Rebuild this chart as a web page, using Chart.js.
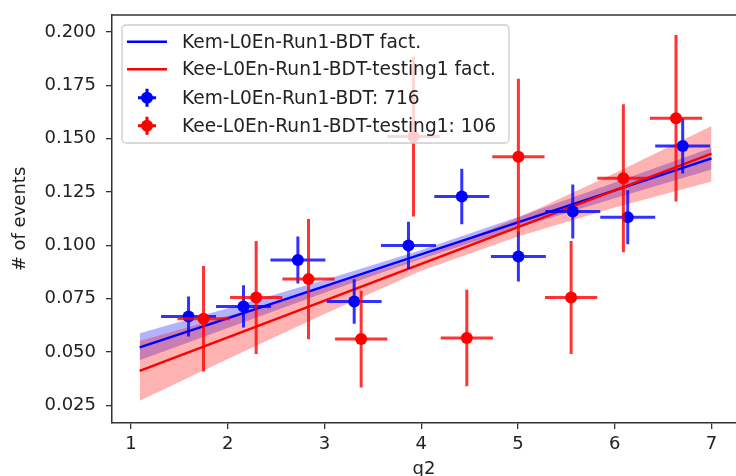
<!DOCTYPE html>
<html>
<head>
<meta charset="utf-8">
<script src="https://cdn.jsdelivr.net/npm/chart.js@4"></script>
<style>
  html, body { margin: 0; padding: 0; background: #fff; overflow: hidden; }
  #chart { display: block; }
</style>
</head>
<body>
<canvas id="chart" width="736" height="476"></canvas>
<script>
// Kem sample (blue) : bin centres, values and errors
let kemX = [1.595, 2.163, 2.725, 3.307, 3.868, 4.419, 5.004, 5.566, 6.134, 6.702]
let kemY = [0.0667, 0.0714, 0.0932, 0.0737, 0.1000, 0.1229, 0.0948, 0.1159, 0.1132, 0.1466]
let kemXErr = [0.284, 0.284, 0.284, 0.284, 0.284, 0.284, 0.284, 0.284, 0.284, 0.284]
let kemYErr = [0.0094, 0.0099, 0.0110, 0.0104, 0.0111, 0.0130, 0.0117, 0.0127, 0.0127, 0.0129]

// Kee sample (red)
let keeX = [1.750, 2.294, 2.835, 3.379, 3.920, 4.471, 5.004, 5.549, 6.089, 6.633]
let keeY = [0.0656, 0.0756, 0.0842, 0.0561, 0.1510, 0.0566, 0.1416, 0.0756, 0.1315, 0.1596]
let keeXErr = [0.270, 0.270, 0.270, 0.270, 0.270, 0.270, 0.270, 0.270, 0.270, 0.270]
let keeYErr = [0.0247, 0.0265, 0.0282, 0.0227, 0.0375, 0.0226, 0.0365, 0.0265, 0.0347, 0.0390]

// fitted lines (end points) and their uncertainty bands
let fitX = [1.09, 7.0]
let kemFit = [0.0522, 0.1408]
let keeFit = [0.0412, 0.1430]
let bandX = [1.09, 2, 3, 4, 5, 6, 7]
let kemBandHi = [0.0588, 0.0705, 0.0838, 0.0979, 0.1133, 0.1295, 0.1458]
let kemBandLo = [0.0462, 0.0613, 0.0778, 0.0937, 0.1083, 0.1221, 0.1356]
let keeBandHi = [0.0552, 0.0670, 0.0804, 0.0945, 0.1128, 0.1338, 0.1560]
let keeBandLo = [0.0272, 0.0468, 0.0678, 0.0881, 0.1042, 0.1178, 0.1300]

let labels = ["Kem-L0En-Run1-BDT fact.", "Kee-L0En-Run1-BDT-testing1 fact.",
              "Kem-L0En-Run1-BDT: 716", "Kee-L0En-Run1-BDT-testing1: 106"]
let xTicks = [1, 2, 3, 4, 5, 6, 7]
let yTicks = [0.025, 0.050, 0.075, 0.100, 0.125, 0.150, 0.175, 0.200]

const FONT = "'DejaVu Sans', sans-serif"
const FS = 18

function pts(xs, ys) {
    return xs.map((x, i) => ({x: x, y: ys[i]}))
}

// crosses for the error bars, segments separated by null gaps
function errorBars(xs, ys, xe, ye) {
    let out = []
    for (let i = 0; i < xs.length; i++) {
        out.push({x: xs[i] - xe[i], y: ys[i]}, {x: xs[i] + xe[i], y: ys[i]}, {x: xs[i], y: null})
        out.push({x: xs[i], y: ys[i] - ye[i]}, {x: xs[i], y: ys[i] + ye[i]}, {x: xs[i], y: null})
    }
    return out
}

// top frame line + legend
const framePlugin = {
    id: "frame",
    afterDraw(chart) {
        const ctx = chart.ctx
        const a = chart.chartArea
        ctx.save()
        ctx.strokeStyle = "#333"
        ctx.lineWidth = 1.5
        ctx.beginPath()
        ctx.moveTo(a.left, a.top)
        ctx.lineTo(a.right, a.top)
        ctx.stroke()

        // legend box
        let bx = a.left + 10, by = a.top + 10, bw = 387, bh = 118
        ctx.fillStyle = "rgba(255,255,255,0.8)"
        ctx.strokeStyle = "#cccccc"
        ctx.lineWidth = 1.3
        ctx.beginPath()
        ctx.roundRect(bx, by, bw, bh, 4)
        ctx.fill()
        ctx.stroke()

        let rows = [by + 16.7, by + 44.3, by + 72.7, by + 100.7]
        let cols = ["#0000ff", "#ff0000", "#0000ff", "#ff0000"]
        ctx.font = "18.6px " + FONT
        ctx.textBaseline = "middle"
        ctx.textAlign = "left"
        for (let i = 0; i < 4; i++) {
            let y = rows[i]
            ctx.strokeStyle = cols[i]
            ctx.fillStyle = cols[i]
            if (i < 2) {
                ctx.lineWidth = 2.5
                ctx.beginPath()
                ctx.moveTo(bx + 5, y)
                ctx.lineTo(bx + 45, y)
                ctx.stroke()
            } else {
                ctx.lineWidth = 3
                ctx.beginPath()
                ctx.moveTo(bx + 16, y); ctx.lineTo(bx + 34, y)
                ctx.moveTo(bx + 25, y - 9); ctx.lineTo(bx + 25, y + 9)
                ctx.stroke()
                ctx.beginPath()
                ctx.arc(bx + 25, y, 6, 0, Math.PI * 2)
                ctx.fill()
            }
            ctx.fillStyle = "#222"
            ctx.fillText(labels[i], bx + 60, y + 1)
        }
        ctx.restore()
    }
}

new Chart("chart", {
    type: "scatter",
    data: {
        datasets: [
            {label: labels[3], data: pts(keeX, keeY), order: 0,
             pointRadius: 6, backgroundColor: "#ff0000", borderWidth: 0},
            {data: errorBars(keeX, keeY, keeXErr, keeYErr), order: 1, showLine: true, spanGaps: false,
             borderColor: "rgba(255,0,0,0.8)", borderWidth: 3, pointRadius: 0},
            {label: labels[2], data: pts(kemX, kemY), order: 2,
             pointRadius: 6, backgroundColor: "#0000ff", borderWidth: 0},
            {data: errorBars(kemX, kemY, kemXErr, kemYErr), order: 3, showLine: true, spanGaps: false,
             borderColor: "rgba(0,0,255,0.8)", borderWidth: 3, pointRadius: 0},
            {label: labels[1], data: pts(fitX, keeFit), order: 4, showLine: true,
             borderColor: "#ff0000", borderWidth: 2.5, pointRadius: 0},
            {label: labels[0], data: pts(fitX, kemFit), order: 5, showLine: true,
             borderColor: "#0000ff", borderWidth: 2.5, pointRadius: 0},
            {data: pts(bandX, keeBandHi), order: 6, showLine: true, fill: "+1",
             backgroundColor: "rgba(255,0,0,0.3)", borderWidth: 0, pointRadius: 0},
            {data: pts(bandX, keeBandLo), order: 7, showLine: true,
             borderWidth: 0, pointRadius: 0},
            {data: pts(bandX, kemBandHi), order: 8, showLine: true, fill: "+1",
             backgroundColor: "rgba(0,0,255,0.3)", borderWidth: 0, pointRadius: 0},
            {data: pts(bandX, kemBandLo), order: 9, showLine: true,
             borderWidth: 0, pointRadius: 0}
        ]
    },
    options: {
        responsive: false,
        animation: false,
        devicePixelRatio: 1,
        events: [],
        layout: {autoPadding: false, padding: {top: 15, left: 0, right: 0, bottom: 0}},
        plugins: {legend: {display: false}, tooltip: {enabled: false}},
        scales: {
            x: {
                type: "linear", min: 0.804, max: 7.253,
                afterBuildTicks: s => { s.ticks = xTicks.map(v => ({value: v})) },
                afterFit: s => { s.height = 53; s.paddingLeft = 0; s.paddingRight = 0 },
                grid: {drawOnChartArea: false, drawTicks: true, tickLength: 6, color: "#333", lineWidth: 1.3},
                border: {display: true, color: "#333", width: 1.5},
                ticks: {color: "#222", padding: 5, font: {family: FONT, size: FS}, callback: v => String(v)},
                title: {display: true, text: "q2", color: "#222", font: {family: FONT, size: FS},
                        padding: {top: 0, bottom: -4}}
            },
            y: {
                type: "linear", min: 0.01676, max: 0.208,
                afterBuildTicks: s => { s.ticks = yTicks.map(v => ({value: v})) },
                afterFit: s => { s.width = 112; s.paddingTop = 0; s.paddingBottom = 0 },
                grid: {drawOnChartArea: false, drawTicks: true, tickLength: 6, color: "#333", lineWidth: 1.3},
                border: {display: true, color: "#333", width: 1.5},
                ticks: {color: "#222", padding: 10, font: {family: FONT, size: FS}, callback: v => v.toFixed(3)},
                title: {display: true, text: "# of events", color: "#222", font: {family: FONT, size: FS},
                        padding: {top: 10, bottom: 0}}
            }
        }
    },
    plugins: [framePlugin]
});
</script>
</body>
</html>
